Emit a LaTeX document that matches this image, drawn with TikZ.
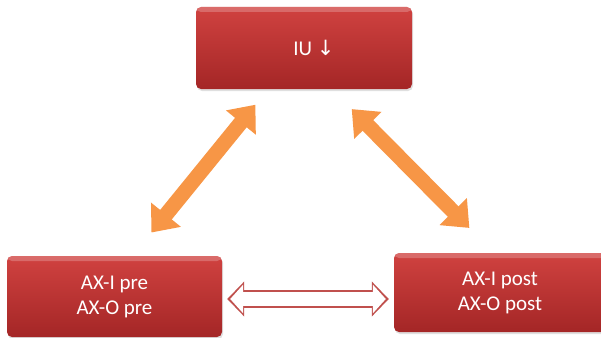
\documentclass[tikz,border=0pt]{standalone}
\usepackage{fontspec}
\setmainfont{Carlito}
\newfontfamily\arrowfont{DejaVu Sans}
\usetikzlibrary{positioning, calc, arrows.meta, shadows}
\definecolor{boxtop}{RGB}{208,66,64}
\definecolor{boxbottom}{RGB}{164,38,38}
\definecolor{linkorange}{RGB}{247,150,70}
\definecolor{linkred}{RGB}{192,80,77}

\begin{document}
\begin{tikzpicture}[x=1pt, y=-1pt,
    every node/.style={font=\fontsize{21}{25}\selectfont},
    redbox/.style={rounded corners=5pt, top color=boxtop, bottom color=boxbottom,
        text=white, align=center, inner sep=0pt,
        drop shadow={shadow xshift=1pt, shadow yshift=-2pt, opacity=0.25},
        path picture={\fill[white, opacity=0.22] (path picture bounding box.north west)
            rectangle ([yshift=-5pt]path picture bounding box.north east);}},
    orangelink/.style={draw=linkorange, line width=15pt,
        {Triangle[length=23pt, width=37pt]}-{Triangle[length=23pt, width=37pt]}},
    hollowout/.style={draw=linkred, line width=18pt,
        {Triangle[length=17pt, width=34pt]}-{Triangle[length=17pt, width=34pt]}},
    hollowin/.style={draw=white, line width=14pt,
        {Triangle[length=13pt, width=28pt]}-{Triangle[length=13pt, width=28pt]}}]
  \useasboundingbox (0,0) rectangle (601,337);

  \node[redbox, minimum width=216pt, minimum height=82pt] (iu) at (304,48)
        {\hspace*{20pt}IU {\arrowfont ↓}};
  \node[redbox, minimum width=215pt, minimum height=81pt] (pre) at (114.5,296.5)
        {AX-I pre\\AX-O pre};
  \node[redbox, minimum width=212pt, minimum height=79pt] (post) at (500,292.5)
        {AX-I post\\AX-O post};

  % links to the top box
  \draw[orangelink, shorten <=30pt, shorten >=20pt]
        ($(pre.north)+(18,0)$) -- ($(iu.south)+(-36,0)$);
  \draw[orangelink, shorten <=28pt, shorten >=35pt]
        ($(iu.south)+(28,0)$) -- ($(post.north)+(-6,0)$);

  % link between the lower boxes
  \coordinate (hl) at ([yshift=-2.5pt]pre.east);
  \coordinate (hr) at (hl -| post.west);
  \draw[hollowout, shorten <=5pt, shorten >=5pt] (hl) -- (hr);
  \draw[hollowin, shorten <=8pt, shorten >=8pt] (hl) -- (hr);
\end{tikzpicture}
\end{document}
